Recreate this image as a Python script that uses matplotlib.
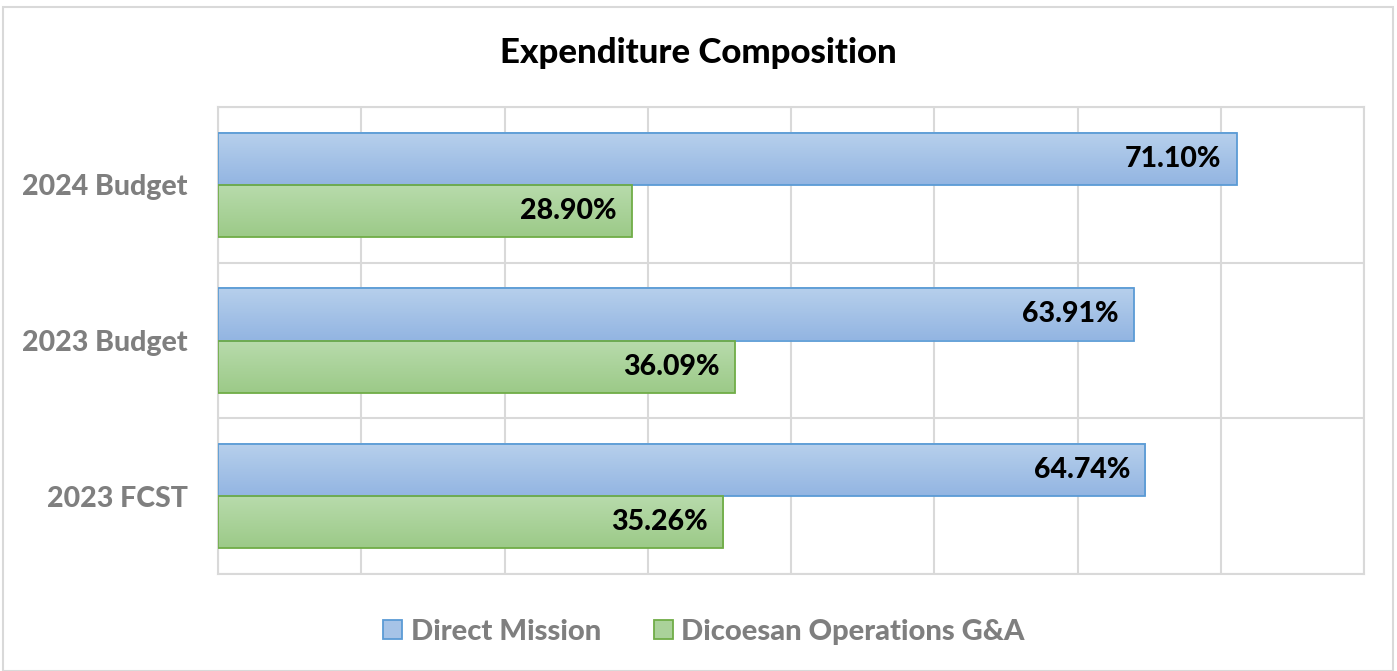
import numpy as np
import matplotlib.pyplot as plt
from matplotlib.patches import Rectangle
from matplotlib.colors import LinearSegmentedColormap

categories = ["2023 FCST", "2023 Budget", "2024 Budget"]
direct_mission = [64.74, 63.91, 71.10]
diocesan_ops = [35.26, 36.09, 28.90]
series_names = ["Direct Mission", "Dicoesan Operations G&A"]

plt.rcParams["font.family"] = ["Lato", "DejaVu Sans"]
W = 900  # heavy weight, closer to the bold Calibri of the original

fig = plt.figure(figsize=(13.97, 6.71), dpi=100)
ax = fig.add_axes([218 / 1397, 1 - 574 / 671, (1364 - 218) / 1397, (574 - 107) / 671])

# outer chart frame
fig.patches.append(Rectangle((3 / 1397, 0), 1390 / 1397, 1 - 7 / 671, transform=fig.transFigure,
                             fill=False, edgecolor="#D9D9D9", linewidth=1.5))

y = np.arange(len(categories))
h = 0.335
grad_blue = LinearSegmentedColormap.from_list("b", ["#B7D0EC", "#93B5E2"])
grad_green = LinearSegmentedColormap.from_list("g", ["#B8DBAC", "#9CCA88"])
styles = [(direct_mission, grad_blue, "#5B9BD5", h / 2),
          (diocesan_ops, grad_green, "#70AD47", -h / 2)]

grad = np.linspace(0, 1, 64).reshape(-1, 1)
for vals, cmap, edge, off in styles:
    bars = ax.barh(y + off, vals, height=h, facecolor="none", edgecolor=edge, linewidth=1.3, zorder=3)
    for b, v in zip(bars, vals):
        x0, y0, w, hh = b.get_x(), b.get_y(), b.get_width(), b.get_height()
        ax.imshow(grad, cmap=cmap, aspect="auto", extent=(x0, x0 + w, y0, y0 + hh),
                  origin="upper", zorder=2, interpolation="bilinear")
        ax.text(x0 + w - 1.05, y0 + hh / 2, f"{v:.2f}%", ha="right", va="center",
                fontsize=20.5, fontweight=W, color="black", zorder=4)

ax.set_xlim(0, 80)
ax.set_ylim(-0.5, 2.5)
ax.set_xticks(np.arange(0, 81, 10))
ax.set_xticklabels([])
ax.set_yticks(y)
ax.set_yticklabels(categories, fontsize=20.5, fontweight=W, color="#7F7F7F")
ax.set_yticks([-0.5, 0.5, 1.5, 2.5], minor=True)
ax.tick_params(axis="both", which="both", length=0)
ax.tick_params(axis="y", pad=22)
ax.grid(axis="x", color="#D9D9D9", linewidth=1.5, zorder=0)
ax.grid(axis="y", which="minor", color="#D9D9D9", linewidth=1.5, zorder=0)
for s in ax.spines.values():
    s.set_color("#D9D9D9")
    s.set_linewidth(1.5)

fig.text(0.5, 1 - 53 / 671, "Expenditure Composition", ha="center", va="center",
         fontsize=25, fontweight=W, color="black")

handles = [Rectangle((0, 0), 1, 1, facecolor="#A6C3E7", edgecolor="#5B9BD5", linewidth=1.3),
           Rectangle((0, 0), 1, 1, facecolor="#AAD29A", edgecolor="#70AD47", linewidth=1.3)]
leg = fig.legend(handles, series_names, loc="center", bbox_to_anchor=(0.504, 1 - 632 / 671),
                 ncol=2, frameon=False, fontsize=21, handlelength=0.65, handleheight=0.65,
                 handletextpad=0.3, columnspacing=1.8)
for t in leg.get_texts():
    t.set_color("#7F7F7F")
    t.set_fontweight(W)

fig.savefig("out.png", dpi=100)
